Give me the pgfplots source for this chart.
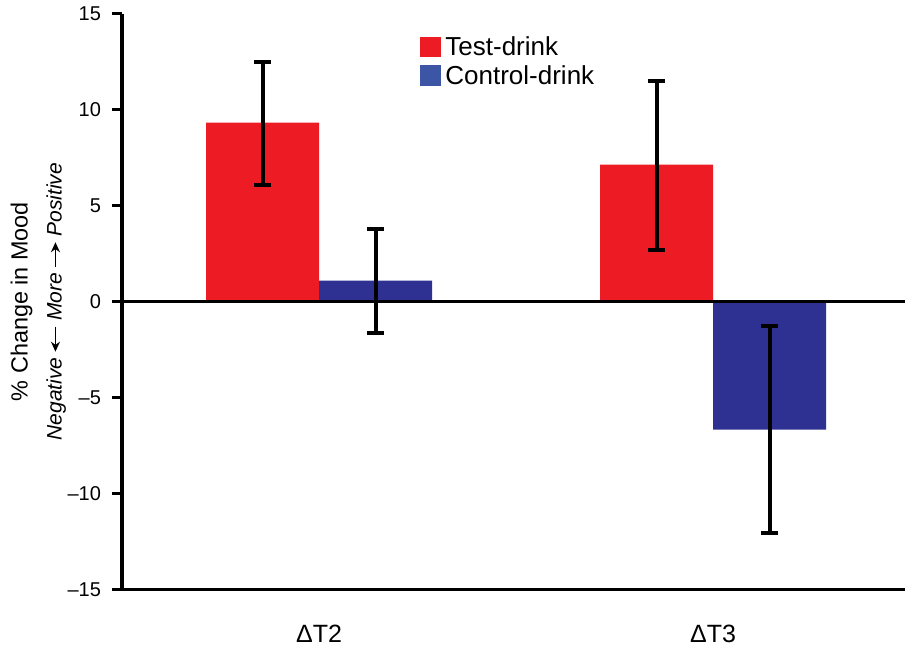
\documentclass[border=0pt]{standalone}
\usepackage{pgfplots}
\pgfplotsset{compat=1.18}
\usetikzlibrary{arrows.meta}
\usepackage{fontspec}
\setmainfont{Liberation Sans}
\definecolor{testred}{HTML}{ED1C24}
\definecolor{ctrlblue}{HTML}{2E3192}
\definecolor{legblue}{HTML}{3D55A5}
\newcommand{\larr}{\tikz[baseline=-0.55ex]\draw[line width=0.8pt,-{Stealth[length=5pt,width=4.5pt]}] (0,0)--(-12.5pt,0);}
\newcommand{\rarr}{\tikz[baseline=-0.55ex]\draw[line width=0.8pt,-{Stealth[length=5pt,width=4.5pt]}] (0,0)--(12.5pt,0);}
\begin{document}
\begin{tikzpicture}
\begin{axis}[
  scale only axis,
  width=391.5pt, height=288pt,
  ybar=0pt, bar width=56.5pt,
  xmin=-0.5, xmax=1.487,
  ymin=-15, ymax=15,
  axis x line=bottom, axis y line=left,
  axis line style={-, line width=1.6pt},
  xtick={0,1}, xticklabels={ΔT2, ΔT3},
  xtick style={draw=none},
  xticklabel style={font=\fontsize{12.5}{15}\selectfont, yshift=-9pt},
  ytick={-15,-10,-5,0,5,10,15},
  yticklabels={–15,–10,–5,0,5,10,15},
  yticklabel style={font=\fontsize{10}{12}\selectfont, xshift=-2pt},
  ytick style={line width=1.5pt, black},
  tick align=outside, major tick length=5pt,
  ylabel={\fontsize{11.7}{14}\selectfont \% Change in Mood\\[5pt]{\fontsize{10.5}{12}\selectfont\itshape Negative\hspace{2.5pt}\larr\hspace{2.5pt}More\hspace{2.5pt}\rarr\hspace{2.5pt}Positive}},
  ylabel style={align=center, at={(axis description cs:-0.0626,0.5)}, anchor=south},
  legend style={draw=none, fill=none, at={(axis description cs:0.3806,0.968)}, anchor=north west,
    font=\fontsize{13}{15}\selectfont, row sep=-0.5pt, inner sep=0pt},
  legend cell align=left,
  error bars/y dir=both, error bars/y explicit,
  error bars/error bar style={line width=2pt, black},
  error bars/error mark options={rotate=90, mark size=4.25pt, line width=2pt, black},
]
\addplot[fill=testred, draw=none, bar shift=-28.25pt,
  legend image code/.code={\fill[testred] (0pt,-5pt) rectangle (10.5pt,5pt);}]
  coordinates {(0,9.32) += (0,3.18) -= (0,3.23) (1,7.14) += (0,4.37) -= (0,4.43)};
\addplot[fill=ctrlblue, draw=none, bar shift=28.25pt,
  legend image code/.code={\fill[legblue] (0pt,-5pt) rectangle (10.5pt,5.5pt);}]
  coordinates {(0,1.09) += (0,2.71) -= (0,2.70) (1,-6.67) += (0,5.42) -= (0,5.36)};
\legend{Test-drink, Control-drink}
\draw[line width=1.2pt, black] (axis cs:-0.5,0) -- (axis cs:1.487,0);
\end{axis}
\path (current axis.south west) ++(-61pt,-29.5pt) rectangle ++(454.5pt,323.5pt);
\end{tikzpicture}
\end{document}
